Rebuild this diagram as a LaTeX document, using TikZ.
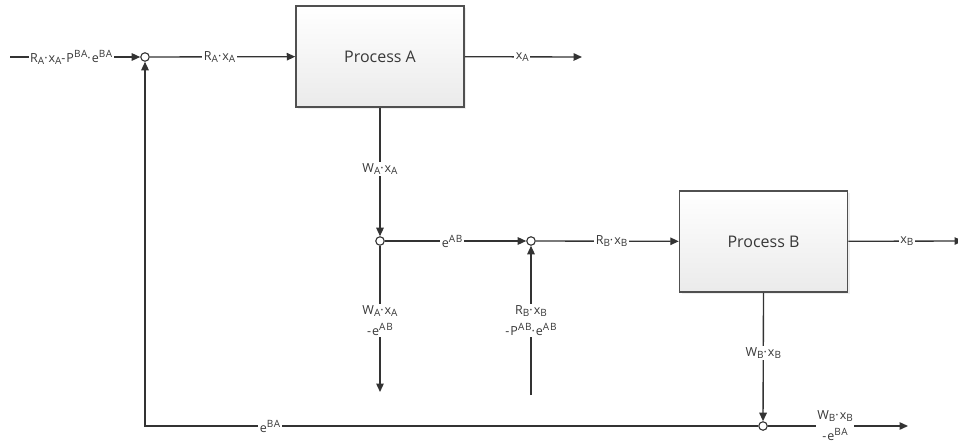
\documentclass[tikz,border=0pt]{standalone}
\usepackage{fontspec}
\setmainfont{Open Sans}
\newfontfamily\labfont[LetterSpace=8]{Open Sans}
\usetikzlibrary{arrows.meta,shadows,shapes.geometric}
\definecolor{ln}{HTML}{333333}
\definecolor{tx}{HTML}{383838}
\definecolor{bx}{HTML}{505050}
\newcommand{\mysb}[1]{\raisebox{-0.3ex}{\fontsize{10}{10}\selectfont #1}}
\newcommand{\mysp}[1]{\raisebox{0.75ex}{\fontsize{10}{10}\selectfont #1}}
\tikzset{
  proc/.style={draw=bx, line width=1.5pt, top color=white, bottom color=black!8,
    minimum width=168pt, minimum height=101pt, text=tx,
    font=\fontsize{16}{18}\selectfont,
    drop shadow={opacity=0.12, shadow xshift=2pt, shadow yshift=-2pt}},
  junc/.style={circle, draw=ln, fill=white, line width=1.1pt, minimum size=8.5pt, inner sep=0pt},
  flow/.style={draw=ln, line width=1.35pt, -{Triangle[length=8.5pt,width=7.5pt]}},
  lab/.style={fill=white, text=tx, inner sep=1.5pt, font=\labfont\fontsize{12.5}{21}\selectfont, align=center}
}
\begin{document}
\begin{tikzpicture}[x=1pt,y=-1pt]
\useasboundingbox[fill=white] (0,0) rectangle (958,441);
\node[proc] (A) at (380,56.5) {Process A};
\node[proc] (B) at (763.5,241.5) {Process B};
\node[junc] (j1) at (145,57) {};
\node[junc] (j2) at (380,241) {};
\node[junc] (j3) at (531,241) {};
\node[junc] (j4) at (763,426) {};
\coordinate (in) at (10,57);
\coordinate (xa) at (582,57);
\coordinate (xb) at (963,241);
\coordinate (wa) at (380,392);
\coordinate (rb) at (531,395);
\coordinate (wb) at (908,426);
\coordinate (corner) at (145,426);

\draw[flow] (in) -- node[lab,pos=0.47] (l1) {R\mysb{A}·x\mysb{A}-P\mysp{BA}·e\mysp{BA}} (j1);
\draw[flow] (j1) -- node[lab,pos=0.48] (l2) {R\mysb{A}·x\mysb{A}} (A);
\draw[flow] (A) -- node[lab,pos=0.49] (l3) {x\mysb{A}} (xa);
\draw[flow] (A.south) -- node[lab,pos=0.48] (l4) {W\mysb{A}·x\mysb{A}} (j2);
\draw[flow] (j2) -- node[lab,pos=0.476] (l5) {e\mysp{AB}} (j3);
\draw[flow] (j3) -- node[lab,pos=0.53] (l6) {R\mysb{B}·x\mysb{B}} (B);
\draw[flow] (j2) -- node[lab,pos=0.51] (l7) {W\mysb{A}·x\mysb{A}\\-e\mysp{AB}} (wa);
\draw[flow] (rb) -- node[lab,pos=0.5] (l8) {R\mysb{B}·x\mysb{B}\\-P\mysp{AB}·e\mysp{AB}} (j3);
\draw[flow] (B) -- node[lab,pos=0.51] (l9) {x\mysb{B}} (xb);
\draw[flow] (B.south) -- node[lab,pos=0.47] (l10) {W\mysb{B}·x\mysb{B}} (j4);
\draw[flow] (j4) -- node[lab,pos=0.48] (l11) {W\mysb{B}·x\mysb{B}\\-e\mysp{BA}} (wb);
\draw[flow] (j4) -- node[lab,pos=0.796] (l12) {e\mysp{BA}} (corner) -- (j1);
\end{tikzpicture}
\end{document}
